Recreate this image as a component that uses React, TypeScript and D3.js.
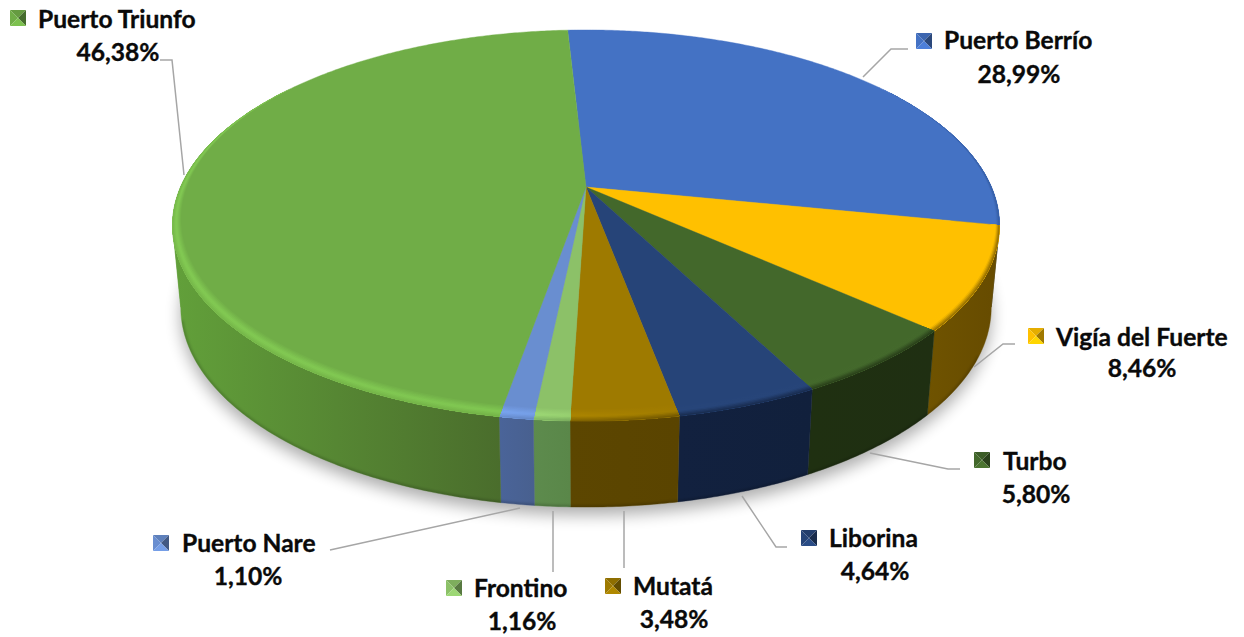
import React from "react";
import * as d3 from "d3";

const categories = ["Puerto Berrío", "Vigía del Fuerte", "Turbo", "Liborina", "Mutatá", "Frontino", "Puerto Nare", "Puerto Triunfo"];
const shares = [28.99, 8.46, 5.8, 4.64, 3.48, 1.16, 1.1, 46.38];
const shareLabels = ["28,99%", "8,46%", "5,80%", "4,64%", "3,48%", "1,16%", "1,10%", "46,38%"];

const topColors = ["#4472c4", "#ffc000", "#43682b", "#264478", "#9e7a00", "#8cc168", "#698ed0", "#70ad47"];
const sideFrom = ["#2f5597", "#6f5300", "#1f3011", "#12213f", "#5c4600", "#5d8b4d", "#4a6499", "#62a03a"];
const sideTo = ["#2f5597", "#664b00", "#1f2f12", "#11203c", "#5a4400", "#5a8749", "#48608f", "#4a6d2c"];

// Label layout: [marker x, marker y, name x, name baseline, value centre x, value baseline]
const labelLayout = [
  [916, 33, 944, 49, 1019, 83],
  [1028, 328, 1056, 346, 1142, 377],
  [974, 452, 1003, 470, 1036, 503],
  [801, 530, 829, 547, 875, 580],
  [605, 578, 633, 595, 674, 628],
  [446, 580, 474, 597, 522, 630],
  [153, 535, 182, 552, 248, 585],
  [10, 10, 38, 28, 118, 61],
];
const leaders = [
  [[863, 77], [891, 49], [908, 49]],
  [[974, 367], [1003, 344], [1015, 344]],
  [[870, 453], [948, 469], [960, 469]],
  [[742, 496], [776, 547], [787, 547]],
  [[624, 511], [624, 568]],
  [[553, 511], [553, 572]],
  [[520, 508], [330, 550]],
  [[160, 60], [172, 60], [184, 175]],
];

const W = 1244, H = 637;
const cx = 586, apexY = 187;
const k = 0.197, A = 188, B = 405.4;
const bottomDrop = 81, bottomA = 192, bottomScale = 0.98;
const rimDepth = 0.045;
const deg = Math.PI / 180;
const startAngle = -3.1 * deg;

type P = [number, number];
const top = (a: number, r = 1): P => {
  const u = r * Math.sin(a), v = -r * Math.cos(a), d = 1 - k * v;
  return [cx + (B * u) / d, apexY + (A * v) / d];
};
const bottom = (a: number): P => {
  const u = Math.sin(a), v = -Math.cos(a), d = 1 - k * v;
  return [cx + (bottomScale * B * u) / d, apexY + bottomDrop + (bottomA * v) / d];
};
const rimRadius = (a: number, f: number) => {
  const v = -Math.cos(a);
  const w = Math.max(0, (v + 0.6) / 1.6);
  return 1 - rimDepth * w * f;
};
const sample = (a0: number, a1: number, fn: (a: number) => P): P[] => {
  const n = Math.max(2, Math.ceil(Math.abs(a1 - a0) / (0.5 * deg)));
  return d3.range(n + 1).map((i) => fn(a0 + ((a1 - a0) * i) / n));
};
const line = d3.line<P>();
const closed = (pts: P[]) => (line(pts) as string) + "Z";

const pie = d3.pie<number>().sort(null).value((d) => d).startAngle(startAngle).endAngle(startAngle + 2 * Math.PI);
const arcs = pie(shares);

const sideMin = 72 * deg, sideMax = 288 * deg;
const extremeRight = Math.PI / 2 + Math.asin(k);
const extremeLeft = (3 * Math.PI) / 2 - Math.asin(k);
const bandFs = d3.range(0, 11).map((i) => i / 10);
const gradStops: [number, number][] = [[173, 1], [500, 0.9], [570, 0.5], [680, 0.1], [1000, 0]];
const xToOffset = d3.scaleLinear().domain([173, 1000]).range([0, 1]);

const rimColor = (i: number, f: number, amt: number) => {
  const base = topColors[i];
  const side = d3.interpolateRgb(sideFrom[i], sideTo[i])(0.5);
  const hi = d3.interpolateRgb(base, d3.rgb(base).brighter(0.45).formatHex())(amt);
  if (f < 0.55) return d3.interpolateRgb(base, hi)(f / 0.55);
  const end = d3.interpolateRgb(hi, side)(0.35 + 0.55 * (1 - amt));
  return d3.interpolateRgb(hi, end)((f - 0.55) / 0.45);
};

const fullBottom = sample(0, 2 * Math.PI, bottom);
const frontBottom = sample(115 * deg, 255 * deg, bottom);

// Each slice's wall, split where the outline turns so no piece folds over itself.
const sideGeom = arcs.map((d) => {
  const a0 = Math.max(d.startAngle, sideMin), a1 = Math.min(d.endAngle, sideMax);
  const cuts = [a0, ...[extremeRight, extremeLeft].filter((e) => e > a0 && e < a1), a1];
  const pieces = d3.pairs(cuts).map(([s, e]) => [...sample(s, e, top), ...sample(e, s, bottom)] as P[]);
  const xs = pieces.flat().map((p) => p[0]);
  return { pieces, x0: d3.min(xs) as number, x1: d3.max(xs) as number };
});

function Marker({ x, y, i }: { x: number; y: number; i: number }) {
  const s = 16, m: P = [x + s / 2, y + s / 2];
  const base = topColors[i];
  const tl: P = [x, y], tr: P = [x + s, y], br: P = [x + s, y + s], bl: P = [x, y + s];
  const dark = d3.rgb(base).darker(1.3).formatHex();
  const mid = d3.rgb(base).darker(0.3).formatHex();
  const light = d3.rgb(base).brighter(0.3).formatHex();
  return (
    <g stroke="none">
      <path d={closed([tl, tr, m])} fill={mid} />
      <path d={closed([tl, bl, m])} fill={base} />
      <path d={closed([tr, br, m])} fill={dark} />
      <path d={closed([bl, br, m])} fill={light} />
    </g>
  );
}

export default function App() {
  return (
    <svg width={W} height={H} viewBox={`0 0 ${W} ${H}`} style={{ position: "absolute", left: 0, top: 0, background: "#fff" }}>
      <defs>
        <filter id="shadowBlur" x="-10%" y="-10%" width="120%" height="120%">
          <feGaussianBlur stdDeviation="8" />
        </filter>
        <filter id="edgeBlur" x="-5%" y="-5%" width="110%" height="110%">
          <feGaussianBlur stdDeviation="1.5" />
        </filter>
        <clipPath id="sideClip">
          <path d={closed([...sample(extremeRight, extremeLeft, top), ...sample(extremeLeft, extremeRight, bottom)])} />
        </clipPath>
        {arcs.map((_, i) => (
          <linearGradient key={i} id={`side${i}`} gradientUnits="userSpaceOnUse" x1={sideGeom[i].x0} x2={sideGeom[i].x1} y1={0} y2={0}>
            <stop offset="0" stopColor={sideFrom[i]} />
            <stop offset="1" stopColor={sideTo[i]} />
          </linearGradient>
        ))}
        {arcs.map((_, i) =>
          bandFs.map((f, b) => (
            <linearGradient key={`${i}-${b}`} id={`rim${i}-${b}`} gradientUnits="userSpaceOnUse" x1={173} x2={1000} y1={0} y2={0}>
              {gradStops.map(([x, amt]) => (
                <stop key={x} offset={xToOffset(x)} stopColor={rimColor(i, f, amt)} />
              ))}
            </linearGradient>
          ))
        )}
      </defs>

      <path d={closed(fullBottom)} transform="translate(0,8)" fill="#000" opacity={0.32} filter="url(#shadowBlur)" />

      {sideGeom.map((g, i) => (
        <g key={i} fill={`url(#side${i})`} stroke={`url(#side${i})`} strokeWidth={0.4}>
          {g.pieces.map((q, j) => <path key={j} d={closed(q)} />)}
        </g>
      ))}
      <g clipPath="url(#sideClip)">
        <path d={line(frontBottom) as string} fill="none" stroke="#000" strokeOpacity={0.22} strokeWidth={3} filter="url(#edgeBlur)" />
      </g>

      {arcs.map((d, i) => (
        <path key={i} d={closed([[cx, apexY], ...sample(d.startAngle, d.endAngle, top)])} fill={topColors[i]} stroke={topColors[i]} strokeWidth={0.4} />
      ))}

      {arcs.map((d, i) =>
        bandFs.map((f, b) => {
          const outer = sample(d.startAngle, d.endAngle, top);
          const inner = sample(d.endAngle, d.startAngle, (a) => top(a, rimRadius(a, 1 - f)));
          return <path key={`${i}-${b}`} d={closed([...outer, ...inner])} fill={`url(#rim${i}-${b})`} />;
        })
      )}

      {leaders.map((pts, i) => (
        <path key={i} d={line(pts as P[]) as string} fill="none" stroke="#a6a6a6" strokeWidth={1.5} />
      ))}

      {categories.map((name, i) => {
        const [mx, my, nx, ny, vx, vy] = labelLayout[i];
        return (
          <g key={name} fontFamily="Lato, 'Open Sans', sans-serif" fontWeight={700} fontSize={24.6} fill="#0a0a0a" stroke="#0a0a0a" strokeWidth={0.35}>
            <Marker x={mx} y={my} i={i} />
            <text x={nx} y={ny}>{name}</text>
            <text x={vx} y={vy} textAnchor="middle">{shareLabels[i]}</text>
          </g>
        );
      })}
    </svg>
  );
}
